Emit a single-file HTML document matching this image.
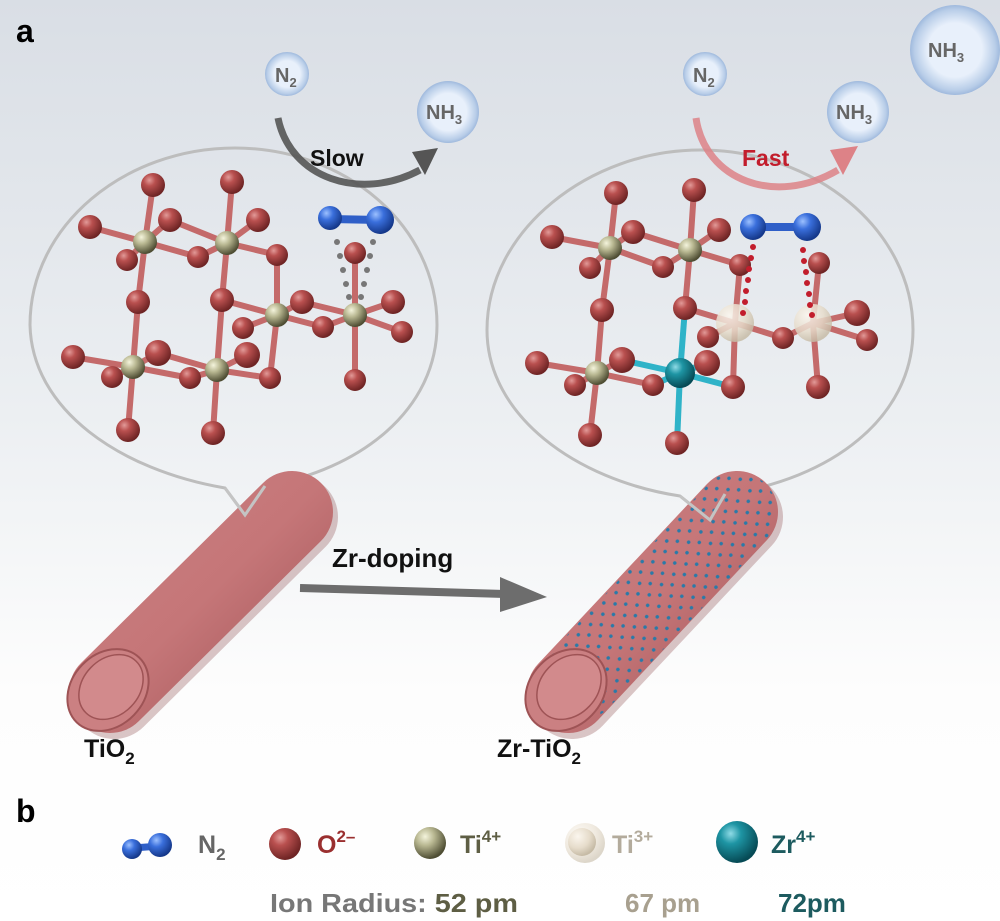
<!DOCTYPE html>
<html><head><meta charset="utf-8"><style>
html,body{margin:0;padding:0;background:#fff}
svg{display:block}
text{font-family:"Liberation Sans",Arial,sans-serif;font-weight:bold}
</style></head><body>
<svg width="1000" height="921" viewBox="0 0 1000 921" xmlns="http://www.w3.org/2000/svg">
<defs>
<linearGradient id="bg" x1="0" y1="0" x2="0" y2="1">
<stop offset="0" stop-color="#d9dee5"/><stop offset="0.45" stop-color="#eceff2"/><stop offset="0.75" stop-color="#fdfdfd"/><stop offset="1" stop-color="#fff"/></linearGradient>
<radialGradient id="gO" cx="0.35" cy="0.3" r="0.7"><stop offset="0" stop-color="#e29a98"/><stop offset="0.35" stop-color="#b9504f"/><stop offset="1" stop-color="#6e2424"/></radialGradient>
<radialGradient id="gTi" cx="0.35" cy="0.3" r="0.7"><stop offset="0" stop-color="#f4f4dc"/><stop offset="0.4" stop-color="#b9b892"/><stop offset="1" stop-color="#4e4d33"/></radialGradient>
<radialGradient id="gT3" cx="0.35" cy="0.3" r="0.7"><stop offset="0" stop-color="#fbf6ee"/><stop offset="0.6" stop-color="#e6dccb"/><stop offset="1" stop-color="#c6bba6"/></radialGradient>
<radialGradient id="gZr" cx="0.35" cy="0.3" r="0.7"><stop offset="0" stop-color="#8fdbe6"/><stop offset="0.35" stop-color="#1e95a4"/><stop offset="1" stop-color="#064a55"/></radialGradient>
<radialGradient id="gN" cx="0.35" cy="0.3" r="0.7"><stop offset="0" stop-color="#9cc0ff"/><stop offset="0.4" stop-color="#3a6fdc"/><stop offset="1" stop-color="#15388a"/></radialGradient>
<radialGradient id="gB" cx="0.5" cy="0.5" r="0.5"><stop offset="0.6" stop-color="#e8f0fb"/><stop offset="0.9" stop-color="#b8cde8"/><stop offset="1" stop-color="#9fb9dd"/></radialGradient>
<linearGradient id="tube" x1="0" y1="0" x2="1" y2="1"><stop offset="0" stop-color="#c97d7f"/><stop offset="0.5" stop-color="#c57678"/><stop offset="1" stop-color="#a85a5d"/></linearGradient>
<pattern id="dots" width="16" height="15" patternUnits="userSpaceOnUse" patternTransform="rotate(-40)">
<circle cx="3" cy="3" r="1.8" fill="#2a7aa8"/><circle cx="11" cy="10" r="1.8" fill="#2a7aa8"/></pattern>
</defs>
<rect width="1000" height="921" fill="url(#bg)"/>

<text x="16" y="42" font-size="32" fill="#000">a</text>
<text x="16" y="822" font-size="32" fill="#000">b</text>

<circle cx="287" cy="74" r="22" fill="url(#gB)"/>
<text x="275" y="82" font-size="20" fill="#666" font-weight="normal">N<tspan font-size="13" dy="5">2</tspan></text>
<circle cx="448" cy="112" r="31" fill="url(#gB)"/>
<text x="426" y="119" font-size="20" fill="#666" font-weight="normal">NH<tspan font-size="13" dy="5">3</tspan></text>
<circle cx="705" cy="74" r="22" fill="url(#gB)"/>
<text x="693" y="82" font-size="20" fill="#666" font-weight="normal">N<tspan font-size="13" dy="5">2</tspan></text>
<circle cx="858" cy="112" r="31" fill="url(#gB)"/>
<text x="836" y="119" font-size="20" fill="#666" font-weight="normal">NH<tspan font-size="13" dy="5">3</tspan></text>
<circle cx="955" cy="50" r="45" fill="url(#gB)"/>
<text x="928" y="57" font-size="20" fill="#666" font-weight="normal">NH<tspan font-size="13" dy="5">3</tspan></text>

<path d="M225,488 C120,470 32,410 30,325 C30,225 125,148 235,148 C345,148 437,225 437,325 C437,410 360,470 265,486 L245,515 Z" fill="none" stroke="#bdbdbd" stroke-width="3"/>
<path d="M680,496 C575,480 487,415 487,330 C487,230 590,150 700,150 C815,150 913,230 913,330 C913,418 830,480 725,494 L710,520 Z" fill="none" stroke="#bdbdbd" stroke-width="3"/>

<path d="M278,118 C290,178 360,202 420,170" fill="none" stroke="#555" stroke-width="7" opacity="0.9"/>
<polygon points="412,152 438,148 425,175" fill="#555"/>
<text x="310" y="166" font-size="23" fill="#111">Slow</text>
<path d="M696,118 C705,180 775,207 838,170" fill="none" stroke="#dd8287" stroke-width="7" opacity="0.85"/>
<polygon points="830,150 858,146 843,175" fill="#dd8287"/>
<text x="742" y="166" font-size="23" fill="#c21d2c">Fast</text>

<g stroke-width="6" stroke-linecap="round" stroke="#c46a6a">
<line x1="145" y1="242" x2="153" y2="185"/><line x1="145" y1="242" x2="90" y2="227"/><line x1="145" y1="242" x2="170" y2="220"/><line x1="145" y1="242" x2="127" y2="260"/><line x1="145" y1="242" x2="198" y2="257"/><line x1="145" y1="242" x2="138" y2="302"/>
<line x1="227" y1="243" x2="232" y2="182"/><line x1="227" y1="243" x2="258" y2="220"/><line x1="227" y1="243" x2="277" y2="255"/><line x1="227" y1="243" x2="222" y2="300"/><line x1="227" y1="243" x2="170" y2="220"/><line x1="227" y1="243" x2="198" y2="257"/>
<line x1="277" y1="315" x2="277" y2="255"/><line x1="277" y1="315" x2="222" y2="300"/><line x1="277" y1="315" x2="302" y2="302"/><line x1="277" y1="315" x2="243" y2="328"/><line x1="277" y1="315" x2="270" y2="378"/><line x1="277" y1="315" x2="323" y2="327"/>
<line x1="355" y1="315" x2="355" y2="253"/><line x1="355" y1="315" x2="393" y2="302"/><line x1="355" y1="315" x2="402" y2="332"/><line x1="355" y1="315" x2="323" y2="327"/><line x1="355" y1="315" x2="355" y2="380"/><line x1="355" y1="315" x2="302" y2="302"/>
<line x1="133" y1="367" x2="138" y2="302"/><line x1="133" y1="367" x2="73" y2="357"/><line x1="133" y1="367" x2="158" y2="353"/><line x1="133" y1="367" x2="112" y2="377"/><line x1="133" y1="367" x2="128" y2="430"/><line x1="133" y1="367" x2="190" y2="378"/>
<line x1="217" y1="370" x2="222" y2="300"/><line x1="217" y1="370" x2="247" y2="355"/><line x1="217" y1="370" x2="190" y2="378"/><line x1="217" y1="370" x2="270" y2="378"/><line x1="217" y1="370" x2="213" y2="433"/><line x1="217" y1="370" x2="158" y2="353"/>
</g>
<g fill="#777"><circle cx="337" cy="242" r="3"/><circle cx="373" cy="242" r="3"/><circle cx="340" cy="256" r="3"/><circle cx="370" cy="256" r="3"/><circle cx="343" cy="270" r="3"/><circle cx="367" cy="270" r="3"/><circle cx="346" cy="284" r="3"/><circle cx="364" cy="284" r="3"/><circle cx="349" cy="297" r="3"/><circle cx="361" cy="297" r="3"/></g>
<g fill="url(#gO)">
<circle cx="153" cy="185" r="12"/><circle cx="232" cy="182" r="12"/><circle cx="90" cy="227" r="12"/><circle cx="170" cy="220" r="12"/><circle cx="258" cy="220" r="12"/><circle cx="127" cy="260" r="11"/><circle cx="198" cy="257" r="11"/><circle cx="277" cy="255" r="11"/><circle cx="138" cy="302" r="12"/><circle cx="222" cy="300" r="12"/><circle cx="302" cy="302" r="12"/><circle cx="323" cy="327" r="11"/><circle cx="243" cy="328" r="11"/><circle cx="393" cy="302" r="12"/><circle cx="402" cy="332" r="11"/><circle cx="355" cy="253" r="11"/><circle cx="355" cy="380" r="11"/><circle cx="73" cy="357" r="12"/><circle cx="158" cy="353" r="13"/><circle cx="247" cy="355" r="13"/><circle cx="112" cy="377" r="11"/><circle cx="190" cy="378" r="11"/><circle cx="270" cy="378" r="11"/><circle cx="128" cy="430" r="12"/><circle cx="213" cy="433" r="12"/>
</g>
<g fill="url(#gTi)">
<circle cx="145" cy="242" r="12"/><circle cx="227" cy="243" r="12"/><circle cx="277" cy="315" r="12"/><circle cx="355" cy="315" r="12"/><circle cx="133" cy="367" r="12"/><circle cx="217" cy="370" r="12"/>
</g>
<line x1="330" y1="219" x2="380" y2="220" stroke="#2f5fc8" stroke-width="8"/>
<circle cx="330" cy="218" r="12" fill="url(#gN)"/><circle cx="380" cy="220" r="14" fill="url(#gN)"/>

<g stroke-width="6" stroke-linecap="round" stroke="#c46a6a">
<line x1="610" y1="248" x2="616" y2="193"/><line x1="610" y1="248" x2="552" y2="237"/><line x1="610" y1="248" x2="633" y2="232"/><line x1="610" y1="248" x2="590" y2="268"/><line x1="610" y1="248" x2="663" y2="267"/><line x1="610" y1="248" x2="602" y2="310"/>
<line x1="690" y1="250" x2="694" y2="190"/><line x1="690" y1="250" x2="719" y2="230"/><line x1="690" y1="250" x2="740" y2="265"/><line x1="690" y1="250" x2="685" y2="308"/><line x1="690" y1="250" x2="633" y2="232"/><line x1="690" y1="250" x2="663" y2="267"/>
<line x1="735" y1="323" x2="740" y2="265"/><line x1="735" y1="323" x2="685" y2="308"/><line x1="735" y1="323" x2="708" y2="337"/><line x1="735" y1="323" x2="783" y2="338"/><line x1="735" y1="323" x2="733" y2="387"/>
<line x1="813" y1="323" x2="819" y2="263"/><line x1="813" y1="323" x2="857" y2="313"/><line x1="813" y1="323" x2="867" y2="340"/><line x1="813" y1="323" x2="783" y2="338"/><line x1="813" y1="323" x2="818" y2="387"/>
<line x1="597" y1="373" x2="602" y2="310"/><line x1="597" y1="373" x2="537" y2="363"/><line x1="597" y1="373" x2="622" y2="360"/><line x1="597" y1="373" x2="575" y2="385"/><line x1="597" y1="373" x2="590" y2="435"/><line x1="597" y1="373" x2="653" y2="385"/>
</g>
<g stroke-width="6" stroke="#2fb3c8">
<line x1="680" y1="373" x2="685" y2="308"/><line x1="680" y1="373" x2="707" y2="363"/><line x1="680" y1="373" x2="653" y2="385"/><line x1="680" y1="373" x2="733" y2="387"/><line x1="680" y1="373" x2="677" y2="443"/><line x1="680" y1="373" x2="622" y2="360"/>
</g>
<g fill="url(#gO)">
<circle cx="616" cy="193" r="12"/><circle cx="694" cy="190" r="12"/><circle cx="552" cy="237" r="12"/><circle cx="633" cy="232" r="12"/><circle cx="719" cy="230" r="12"/><circle cx="590" cy="268" r="11"/><circle cx="663" cy="267" r="11"/><circle cx="740" cy="265" r="11"/><circle cx="819" cy="263" r="11"/><circle cx="602" cy="310" r="12"/><circle cx="685" cy="308" r="12"/><circle cx="708" cy="337" r="11"/><circle cx="783" cy="338" r="11"/><circle cx="857" cy="313" r="13"/><circle cx="867" cy="340" r="11"/><circle cx="537" cy="363" r="12"/><circle cx="622" cy="360" r="13"/><circle cx="707" cy="363" r="13"/><circle cx="575" cy="385" r="11"/><circle cx="653" cy="385" r="11"/><circle cx="733" cy="387" r="12"/><circle cx="818" cy="387" r="12"/><circle cx="590" cy="435" r="12"/><circle cx="677" cy="443" r="12"/>
</g>
<g fill="url(#gTi)"><circle cx="610" cy="248" r="12"/><circle cx="690" cy="250" r="12"/><circle cx="597" cy="373" r="12"/></g>
<circle cx="680" cy="373" r="15" fill="url(#gZr)"/>
<circle cx="735" cy="323" r="19" fill="url(#gT3)" opacity="0.85"/>
<circle cx="813" cy="323" r="19" fill="url(#gT3)" opacity="0.85"/>
<g fill="#c21d2c">
<circle cx="753" cy="247" r="3"/><circle cx="751" cy="258" r="3"/><circle cx="749" cy="269" r="3"/><circle cx="748" cy="280" r="3"/><circle cx="746" cy="291" r="3"/><circle cx="745" cy="302" r="3"/><circle cx="743" cy="313" r="3"/>
<circle cx="803" cy="250" r="3"/><circle cx="804" cy="261" r="3"/><circle cx="806" cy="272" r="3"/><circle cx="807" cy="283" r="3"/><circle cx="809" cy="294" r="3"/><circle cx="810" cy="305" r="3"/><circle cx="812" cy="315" r="3"/>
</g>
<line x1="753" y1="227" x2="807" y2="227" stroke="#2f5fc8" stroke-width="8"/>
<circle cx="753" cy="227" r="13" fill="url(#gN)"/><circle cx="807" cy="227" r="14" fill="url(#gN)"/>

<g>
<line x1="110" y1="692" x2="292" y2="512" stroke="#8a4648" stroke-width="84" stroke-linecap="round" opacity="0.3" transform="translate(4,5)"/>
<line x1="110" y1="692" x2="292" y2="512" stroke="url(#tube)" stroke-width="82" stroke-linecap="round"/>
<ellipse cx="108" cy="690" rx="36" ry="45" transform="rotate(44 108 690)" fill="#cb8082" stroke="#9e5355" stroke-width="2"/>
<ellipse cx="111" cy="687" rx="28" ry="36" transform="rotate(44 111 687)" fill="#d28a8c" stroke="#9e5355" stroke-width="1.5"/>
</g>
<g>
<line x1="568" y1="692" x2="737" y2="512" stroke="#8a4648" stroke-width="84" stroke-linecap="round" opacity="0.3" transform="translate(4,5)"/>
<line x1="568" y1="692" x2="737" y2="512" stroke="url(#tube)" stroke-width="82" stroke-linecap="round"/>
<line x1="580" y1="680" x2="737" y2="512" stroke="url(#dots)" stroke-width="80" stroke-linecap="round"/>
<ellipse cx="566" cy="690" rx="36" ry="45" transform="rotate(44 566 690)" fill="#cb8082" stroke="#9e5355" stroke-width="2"/>
<ellipse cx="569" cy="687" rx="28" ry="36" transform="rotate(44 569 687)" fill="#d28a8c" stroke="#9e5355" stroke-width="1.5"/>
</g>
<path d="M225,488 L245,515 L265,486" fill="none" stroke="#c4c4c4" stroke-width="3"/>
<path d="M680,496 L710,520 L725,494" fill="none" stroke="#c4c4c4" stroke-width="3"/>

<path d="M300,588 L505,594" stroke="#6d6d6d" stroke-width="8" fill="none"/>
<polygon points="500,577 547,597 500,612" fill="#6d6d6d"/>
<text x="332" y="567" font-size="26" fill="#111">Zr-doping</text>

<text x="84" y="757" font-size="25" fill="#111">TiO<tspan font-size="17" dy="7">2</tspan></text>
<text x="497" y="757" font-size="25" fill="#111">Zr-TiO<tspan font-size="17" dy="7">2</tspan></text>

<line x1="133" y1="848" x2="160" y2="846" stroke="#2f5fc8" stroke-width="7"/>
<circle cx="132" cy="849" r="10" fill="url(#gN)"/><circle cx="160" cy="845" r="12" fill="url(#gN)"/>
<text x="198" y="853" font-size="25" fill="#666" font-weight="normal">N<tspan font-size="17" dy="7">2</tspan></text>
<circle cx="285" cy="844" r="16" fill="url(#gO)"/>
<text x="317" y="853" font-size="25" fill="#9a2f2f">O<tspan font-size="17" dy="-11">2–</tspan></text>
<circle cx="430" cy="843" r="16" fill="url(#gTi)"/>
<text x="460" y="853" font-size="25" fill="#5e5e44">Ti<tspan font-size="17" dy="-11">4+</tspan></text>
<circle cx="585" cy="843" r="20" fill="url(#gT3)" opacity="0.6"/><circle cx="582" cy="842" r="14" fill="url(#gT3)"/>
<text x="612" y="853" font-size="25" fill="#b3ab9c">Ti<tspan font-size="17" dy="-11">3+</tspan></text>
<circle cx="737" cy="842" r="21" fill="url(#gZr)"/>
<text x="771" y="853" font-size="25" fill="#1d5b5f">Zr<tspan font-size="17" dy="-11">4+</tspan></text>

<text x="270" y="912" font-size="26" fill="#777" textLength="248" lengthAdjust="spacingAndGlyphs">Ion Radius: <tspan fill="#5e5e44">52 pm</tspan></text>
<text x="625" y="912" font-size="26" fill="#a8a08f">67 pm</text>
<text x="778" y="912" font-size="26" fill="#1d5b5f">72pm</text>
</svg>
</body></html>
